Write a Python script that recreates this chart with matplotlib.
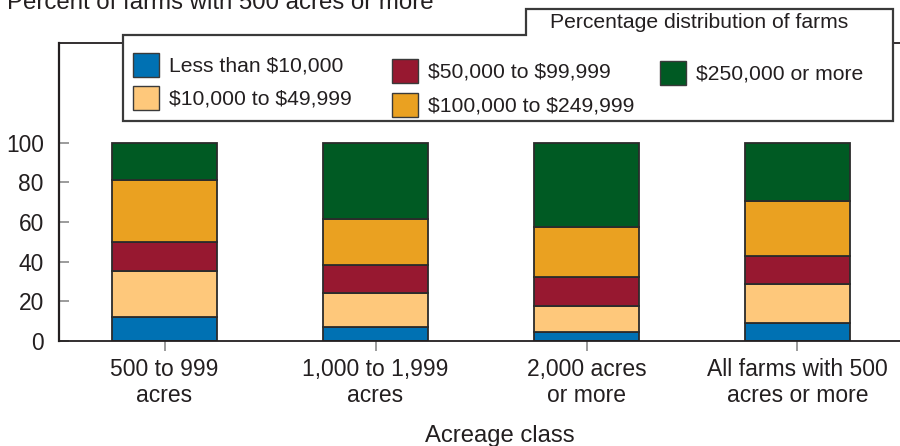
import numpy as np
import matplotlib
matplotlib.use("Agg")
import matplotlib.pyplot as plt
from matplotlib.patches import Rectangle, Polygon

# -------------------------
# data
# -------------------------
categories = ["500 to 999\nacres", "1,000 to 1,999\nacres",
              "2,000 acres\nor more", "All farms with 500\nacres or more"]
series = ["Less than $10,000", "$10,000 to $49,999", "$50,000 to $99,999",
          "$100,000 to $249,999", "$250,000 or more"]
colors = ["#0071b3", "#fec87b", "#971830", "#eaa121", "#005a23"]

less_10k = [12.0, 7.2, 4.7, 9.2]
k10_50 = [23.5, 17.0, 13.1, 19.4]
k50_100 = [14.3, 14.1, 14.5, 14.3]
k100_250 = [31.4, 23.4, 25.2, 27.9]
k250_up = [18.8, 38.3, 42.5, 29.2]
values = [less_10k, k10_50, k50_100, k100_250, k250_up]

yticks = [0, 20, 40, 60, 80, 100]

W, H = 900, 446
INK = "#231f20"
FONT = "Liberation Sans"

plt.rcParams["font.family"] = [FONT, "DejaVu Sans"]
plt.rcParams["text.parse_math"] = False   # "$" is literal here


def px(x, y):
    # pixel position (top-left origin) -> figure fraction
    return x / W, 1 - y / H


fig = plt.figure(figsize=(W / 100, H / 100), dpi=100)
ax = fig.add_axes([59 / W, (H - 341) / H, (930 - 59) / W, (341 - 43) / H])

x = np.arange(len(categories))
bottom = np.zeros(len(categories))
for vals, col, name in zip(values, colors, series):
    ax.bar(x, vals, width=0.5, bottom=bottom, color=col,
           edgecolor="#2b2b2b", linewidth=1.3, label=name, zorder=2)
    bottom += np.array(vals)

ax.set_xlim(-0.5, -0.5 + (930 - 59) / 211)
ax.set_ylim(0, 150.3)

ax.set_yticks(yticks)
ax.set_yticklabels([str(t) for t in yticks], fontsize=16.4, color=INK)
ax.set_xticks(x)
ax.set_xticklabels(categories, fontsize=16.5, color=INK, linespacing=1.2)
ax.tick_params(axis="y", direction="in", length=7, width=1.2,
               color="#8a8a8a", pad=11)
ax.tick_params(axis="x", direction="out", length=7, width=1.2,
               color="#8a8a8a", pad=5)

for side in ["left", "top", "bottom"]:
    ax.spines[side].set_color(INK)
ax.spines["left"].set_linewidth(1.6)
ax.spines["top"].set_linewidth(1.3)
ax.spines["bottom"].set_linewidth(1.3)
ax.spines["right"].set_visible(False)

# titles
fig.text(*px(7, 9), "Percent of farms with 500 acres or more",
         fontsize=17.3, color=INK, ha="left", va="baseline")
fig.text(*px(500, 442), "Acreage class", fontsize=17.2, color=INK,
         ha="center", va="baseline")

# legend frame with tab
frame = [px(123, 35), px(526, 35), px(526, 9), px(893, 9),
         px(893, 121), px(123, 121)]
fig.add_artist(Polygon(frame, closed=True, facecolor="white",
                       edgecolor="#3a3a3a", linewidth=1.6, zorder=5))
fig.text(*px(699, 23), "Percentage distribution of farms", fontsize=15.2,
         color=INK, ha="center", va="center", zorder=6)

# legend entries: (patch left, patch top) in pixels
entry_pos = [(133, 53), (133, 86), (392, 59), (392, 93), (660, 61)]
for (lx, ly), col, name in zip(entry_pos, colors, series):
    x0, y0 = px(lx, ly + 24)
    fig.add_artist(Rectangle((x0, y0), 26 / W, 24 / H, facecolor=col,
                             edgecolor="#3a3a3a", linewidth=1.0, zorder=6))
    fig.text(*px(lx + 36, ly + 13), name, fontsize=15.2, color=INK,
             ha="left", va="center", zorder=6)

fig.savefig("out.png", dpi=100)
